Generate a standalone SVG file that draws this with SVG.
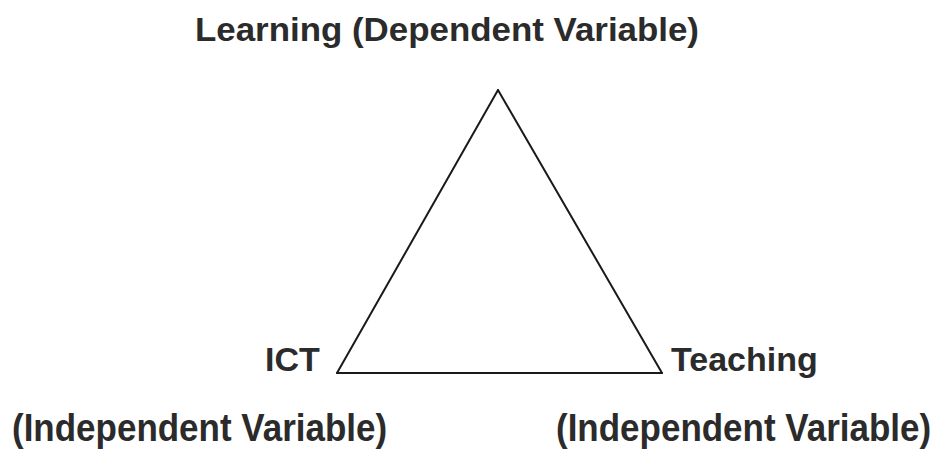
<svg xmlns="http://www.w3.org/2000/svg" width="941" height="450" viewBox="0 0 941 450">
  <style>
    .lbl { font-family: "Liberation Sans", Arial, sans-serif; font-weight: bold; fill: #2b2b2b; }
    .sub { font-size: 35px; }
    .edge { stroke: #1a1a1a; stroke-width: 2; stroke-linecap: round; fill: none; }
  </style>
  <rect width="941" height="450" fill="#ffffff"/>
  <g id="connectors">
    <line class="edge" x1="498" y1="90" x2="337" y2="373"/>
    <line class="edge" x1="498" y1="90" x2="662" y2="373"/>
    <line class="edge" x1="337" y1="373" x2="662" y2="373"/>
  </g>
  <g id="node-learning">
    <text class="lbl" x="195" y="41" font-size="34" textLength="504" lengthAdjust="spacingAndGlyphs">Learning (Dependent Variable)</text>
  </g>
  <g id="node-ict">
    <text class="lbl" x="265" y="371" font-size="34">ICT</text>
    <text class="lbl sub" transform="translate(12,441) scale(1,1.12)" x="0" y="0">(Independent Variable)</text>
  </g>
  <g id="node-teaching">
    <text class="lbl" x="671" y="371" font-size="34">Teaching</text>
    <text class="lbl sub" transform="translate(556,441) scale(1,1.12)" x="0" y="0">(Independent Variable)</text>
  </g>
</svg>
